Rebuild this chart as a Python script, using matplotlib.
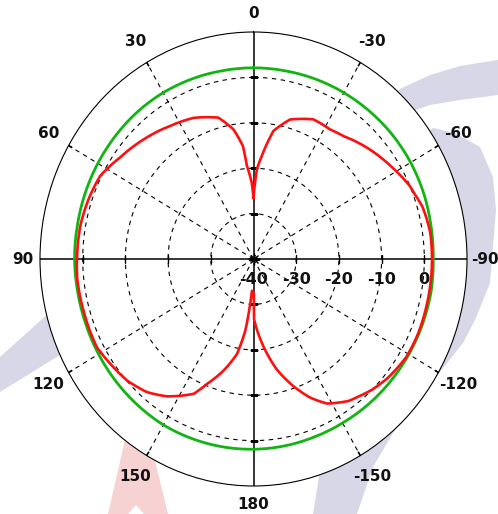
import numpy as np
import matplotlib.pyplot as plt
from matplotlib.patches import Polygon

# measured pattern, angle in degrees as labelled (counter-clockwise from top), level in dB
red_theta = [0, 1.4, 4.3, 5.7, 9.3, 14.8, 24.3, 33.6, 44.2, 54.3, 63, 71, 79.6,
             88.8, 95.8, 106, 118, 124.6, 132.2, 139.6, 146.2, 154.8, 158.4, 164,
             169.5, 173, 175, 177,
             -179.5, -179.4, -173.2, -167.4, -161.6, -156.5, -151.6, -144.5, -141,
             -136, -130, -121, -113, -103, -97, -88, -82, -77.6, -73.7, -69.5,
             -66.4, -58, -47, -37.9, -32.1, -24.5, -15.6, -9.4, -4.9, -2.3]
red_db = [-26.5, -23.2, -19.4, -15.0, -11.1, -7.8, -5.9, -4.8, -3.2, -1.6, 0.3, 0.8, 1.2,
          1.3, 1.5, 1.4, 1.5, 0.7, -0.1, -1.5, -3.6, -7.2, -10.4, -14.4,
          -18.7, -24.0, -29.0, -33.0,
          -32.5, -26.7, -20.7, -15.1, -10.5, -6.7, -3.8, -1.6, -1.0,
          0.0, 0.9, 1.8, 1.9, 1.8, 1.8, 1.8, 1.8, 1.5, 1.2, 0.4,
          0.0, -1.8, -3.9, -5.7, -6.3, -6.2, -8.1, -11.4, -17.2, -20.2]

green_theta = [0, 10, 20, 30, 40, 50, 60, 70, 80, 90, 100, 110, 120, 130, 140, 150, 160, 170,
               180, -170, -160, -150, -140, -130, -120, -110, -100, -90, -80, -70, -60, -50,
               -40, -30, -20, -10]
green_db = [2.1, 2.1, 2.2, 2.3, 2.3, 2.2, 2.1, 2.0, 1.9, 1.9, 1.8, 1.8, 1.9, 2.0, 2.1, 2.2, 2.1, 2.0,
            1.9, 1.8, 1.7, 1.7, 1.8, 1.9, 2.0, 2.1, 2.2, 2.1, 2.2, 2.4, 2.5, 2.5,
            2.4, 2.3, 2.2, 2.1]

ring_levels = [-30, -20, -10, 0]
ring_labels = ['-40', '-30', '-20', '-10', '0']
ring_label_r = [-40, -30, -20, -10, 0]
angle_ticks = [0, 30, 60, 90, 120, 150, 180, -150, -120, -90, -60, -30]
angle_labels = ['0', '30', '60', '90', '120', '150', '180', '-150', '-120', '-90', '-60', '-30']

W, H = 498, 514


def fpx(x, y):
    return (x / W, 1 - y / H)


def closed(theta, vals):
    th = np.deg2rad(np.append(np.mod(theta, 360), np.mod(theta[0], 360) + 360))
    return th, np.append(vals, vals[0])


def curved(lines, steps=12):
    # let the polar transform draw each segment as an arc instead of a chord
    for ln in lines:
        ln.get_path()._interpolation_steps = steps


fig = plt.figure(figsize=(W / 100, H / 100), dpi=100)

# faint watermark behind the chart (mostly hidden by the white plot disc)
swoosh_top = [(380, 100), (402, 88), (430, 75), (460, 66), (498, 60), (498, 95),
              (460, 100), (430, 105), (410, 112), (395, 125)]
swoosh_side = [(415, 140), (433, 128), (455, 133), (480, 147), (493, 177), (496, 210),
               (490, 283), (475, 320), (463, 343), (440, 372), (415, 405), (393, 433),
               (373, 467), (357, 514), (313, 514), (320, 470), (380, 380), (420, 250)]
band = [(0, 357), (100, 267), (120, 318), (0, 392)]
tri = [(108, 514), (125, 440), (150, 440), (168, 514)]
notch = [(128, 514), (136, 505), (144, 514)]
for pts, col in [(swoosh_top, '#d7d7e7'), (swoosh_side, '#d7d7e7'), (band, '#d7d7e7'),
                 (tri, '#f6d2d2'), (notch, 'white')]:
    fig.add_artist(Polygon([fpx(*p) for p in pts], closed=True, facecolor=col,
                           edgecolor='none', transform=fig.transFigure, zorder=-5))

ax = fig.add_axes([40 / W, (H - 486) / H, 427 / W, 454 / H], projection='polar')
ax.set_aspect('auto')
ax.set_theta_zero_location('N')
ax.set_theta_direction(1)
ax.set_rlim(-40, 10)
ax.set_xticks([])
ax.set_yticks([])
ax.grid(False)
ax.spines['polar'].set_linewidth(0.8)
ax.set_facecolor('white')

full = np.linspace(0, 2 * np.pi, 361)
for lev in ring_levels:
    ax.plot(full, np.full_like(full, lev), color='black', lw=0.8, ls=(0, (4, 4)), zorder=2)

for a in [30, 60, 120, 150, 210, 240, 300, 330]:
    ax.plot([np.deg2rad(a)] * 2, [-40, 10], color='black', lw=0.8, ls=(0, (4, 4)), zorder=2)
    ax.plot([np.deg2rad(a)] * 2, [9.2, 10], color='black', lw=1.2, zorder=2)
for a in [0, 90, 180, 270]:
    ax.plot([np.deg2rad(a)] * 2, [-40, 10], color='black', lw=1.1, zorder=2)
    mk = '|' if a in (90, 270) else '_'
    ax.plot([np.deg2rad(a)] * len(ring_levels), ring_levels, ls='none', marker=mk,
            ms=6, mew=1.0, color='black', zorder=2)

ax.plot([0], [-40], marker='+', ms=8, mew=1.0, color='black', zorder=5)
ax.plot([0], [-40], marker='x', ms=6, mew=1.0, color='black', zorder=5)

th, rr = closed(green_theta, green_db)
curved(ax.plot(th, rr, color='#12b412', lw=2.0, zorder=3))
th, rr = closed(red_theta, red_db)
curved(ax.plot(th, rr, color='#ff1010', lw=1.9, zorder=4))

for a, lbl in zip(angle_ticks, angle_labels):
    r = 14.1 if a % 90 == 0 else 15.4
    ax.text(np.deg2rad(a), r, lbl, ha='center', va='center', fontsize=11,
            fontweight='bold', color='#111111')

for r, lbl in zip(ring_label_r, ring_labels):
    ax.annotate(lbl, xy=(np.deg2rad(270), r), xytext=(0, -14.4), textcoords='offset points',
                ha='center', va='center', fontsize=11.5, fontweight='bold', color='#111111',
                zorder=6)

fig.savefig('out.png', dpi=100)
